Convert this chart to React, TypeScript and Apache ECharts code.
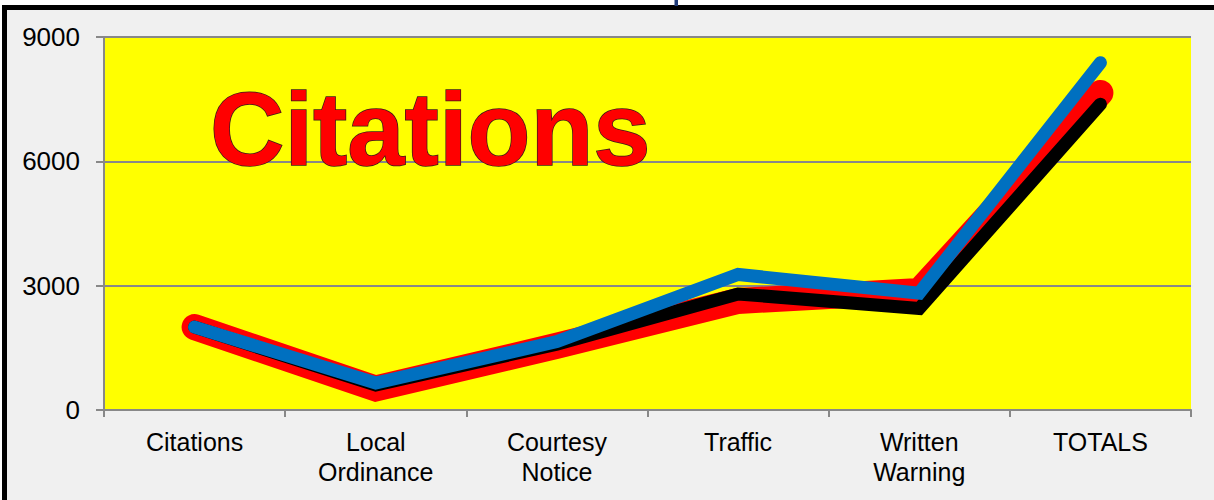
import React, { useEffect, useRef } from "react";
import * as echarts from "echarts";

const categories = ["Citations", "Local\nOrdinance", "Courtesy\nNotice", "Traffic", "Written\nWarning", "TOTALS"];
const redValues = [2000, 520, 1550, 2630, 2870, 7650];
const blackValues = [2000, 600, 1590, 2800, 2450, 7380];
const blueValues = [2000, 650, 1650, 3270, 2820, 8380];
const yTicks = { min: 0, max: 9000, interval: 3000 };
const titleText = "Citations";

export default function App() {
  const ref = useRef<HTMLDivElement>(null);
  useEffect(() => {
    document.body.style.margin = "0";
    const chart = echarts.init(ref.current!, undefined, { renderer: "svg" });
    const font = "Arial, 'Liberation Sans', sans-serif";
    const mk = (name: string, data: number[], color: string, width: number) => ({
      name,
      type: "line",
      data,
      showSymbol: false,
      symbol: "none",
      lineStyle: { color, width, cap: "round", join: "miter" },
      z: 2,
    });
    chart.setOption({
      animation: false,
      backgroundColor: "#ffffff",
      grid: {
        left: 104,
        right: 23,
        top: 37,
        bottom: 90,
        show: true,
        backgroundColor: "#ffff00",
        borderWidth: 0,
      },
      xAxis: {
        type: "category",
        data: categories,
        boundaryGap: true,
        axisLine: { lineStyle: { color: "#888888", width: 2 } },
        axisTick: { show: true, length: 7, lineStyle: { color: "#888888", width: 2 } },
        axisLabel: { color: "#000", fontFamily: font, fontSize: 25, lineHeight: 30, margin: 17 },
      },
      yAxis: {
        type: "value",
        min: yTicks.min,
        max: yTicks.max,
        interval: yTicks.interval,
        axisLine: { show: true, lineStyle: { color: "#888888", width: 2 } },
        axisTick: { show: true, length: 8, lineStyle: { color: "#888888", width: 2 } },
        splitLine: { show: true, lineStyle: { color: "#888888", width: 2 } },
        axisLabel: {
          color: "#000",
          fontFamily: font,
          fontSize: 26,
          margin: 24,
          formatter: (v: number) => String(v),
        },
      },
      series: [
        mk("Red", redValues, "#ff0000", 26),
        mk("Black", blackValues, "#000000", 13),
        mk("Blue", blueValues, "#0070c0", 13),
      ],
      graphic: [
        {
          type: "rect",
          z: -10,
          silent: true,
          shape: { x: 4.5, y: 7.5, width: 1300, height: 600 },
          style: { fill: "#f0f0f0", stroke: "#000000", lineWidth: 5 },
        },
        {
          type: "rect",
          z: -9,
          silent: true,
          shape: { x: 674.5, y: 0, width: 3.5, height: 6 },
          style: { fill: "#1f3a78" },
        },
        {
          type: "text",
          z: 100,
          silent: true,
          x: 210,
          y: 129,
          style: {
            text: titleText,
            fontFamily: font,
            fontWeight: "bold",
            fontSize: 103,
            fill: "#ff0000",
            stroke: "#3a1a1a",
            lineWidth: 1.5,
            align: "left",
            verticalAlign: "middle",
          },
        },
      ],
    });
    return () => chart.dispose();
  }, []);
  return <div ref={ref} style={{ width: 1214, height: 500 }} />;
}
